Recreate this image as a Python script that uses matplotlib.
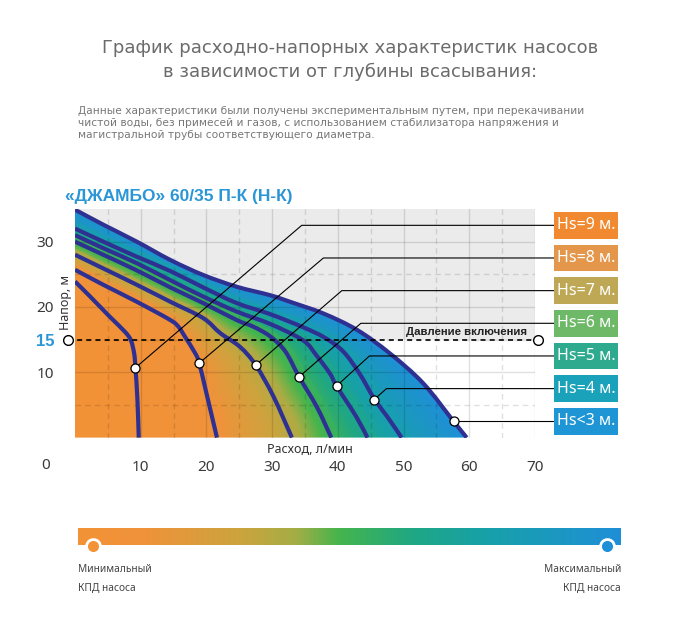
import numpy as np
import matplotlib
matplotlib.use('Agg')
import matplotlib.pyplot as plt
from matplotlib.colors import LinearSegmentedColormap
from matplotlib.patches import Rectangle, PathPatch
from matplotlib.path import Path

plt.rcParams['font.family'] = ['Noto Sans', 'DejaVu Sans']

# head-flow curves (flow l/min, head m), from deepest suction to shallowest
hs9_q = [0, 2.3, 5.3, 7.6, 8.5, 9.0, 9.2, 9.5, 9.7]
hs9_h = [23.9, 21.6, 18.5, 16.2, 14.9, 12.9, 10.7, 5.8, 0]
hs8_q = [0, 4.3, 9.4, 14.5, 15.8, 16.7, 18.3, 18.9, 20.0, 21.6]
hs8_h = [25.7, 23.4, 20.8, 18.0, 16.9, 15.5, 12.9, 11.4, 6.8, 0]
hs7_q = [0, 4.3, 9.4, 14.5, 19.5, 22.1, 25.1, 27.5, 30.2, 33.0]
hs7_h = [28.0, 25.9, 23.4, 20.8, 18.3, 16.0, 13.9, 11.1, 6.3, 0]
hs6_q = [0, 4.3, 9.4, 14.5, 19.5, 24.6, 27.1, 29.7, 32.0, 34.1, 36.8, 39.0]
hs6_h = [30.0, 28.0, 25.6, 23.0, 20.6, 18.0, 17.0, 15.5, 13.2, 9.3, 4.7, 0]
hs5_q = [0, 4.3, 9.4, 14.5, 19.5, 24.6, 29.7, 34.7, 36.8, 38.8, 39.8, 42.8, 44.5]
hs5_h = [31.0, 29.0, 26.7, 24.1, 21.6, 19.3, 17.4, 14.9, 12.5, 9.8, 7.9, 3.2, 0]
hs4_q = [0, 4.3, 9.4, 14.5, 19.5, 24.6, 29.7, 34.7, 38.0, 40.8, 43.3, 45.5, 47.8, 49.7]
hs4_h = [32.0, 30.0, 27.7, 25.5, 23.0, 20.6, 18.9, 16.9, 15.3, 13.2, 9.8, 6.0, 2.8, 0]
hs3_q = [0, 4.3, 9.4, 14.5, 19.5, 24.6, 29.7, 32.7, 37.8, 42.9, 47.9, 53.0, 57.6, 59.6]
hs3_h = [34.9, 32.6, 30.0, 27.2, 24.9, 23.1, 21.8, 20.8, 19.0, 16.5, 12.9, 8.3, 2.5, 0]

curves = [(hs9_q, hs9_h), (hs8_q, hs8_h), (hs7_q, hs7_h), (hs6_q, hs6_h),
          (hs5_q, hs5_h), (hs4_q, hs4_h), (hs3_q, hs3_h)]
labels = ['Hs=9 м.', 'Hs=8 м.', 'Hs=7 м.', 'Hs=6 м.', 'Hs=5 м.', 'Hs=4 м.', 'Hs<3 м.']
label_colors = ['#f0892f', '#e4964b', '#bfa855', '#6eb968', '#2eab8f', '#1aa2bb', '#1e95d4']

# callout points on each curve, elbow of the leader and the label row
marker_q = [9.2, 18.9, 27.5, 34.1, 39.8, 45.5, 57.6]
marker_h = [10.7, 11.4, 11.1, 9.3, 7.9, 5.8, 2.5]
elbow_q = [34.5, 37.8, 40.6, 43.5, 44.8, 47.4, 57.6]
row_h = [32.5, 27.5, 22.5, 17.5, 12.5, 7.5, 2.5]

p_on = 15  # switch-on pressure, m

x_ticks = [10, 20, 30, 40, 50, 60, 70]
y_ticks = [10, 15, 20, 30]

navy = '#2e3192'
blue = '#2a96d6'
bold_font = ['Liberation Sans', 'DejaVu Sans']
title_font = ['DejaVu Sans']

cmap = LinearSegmentedColormap.from_list('kpd', list(zip(
    [0, 0.12, 0.30, 0.40, 0.48, 0.62, 0.75, 1.0],
    ['#f39237', '#f0923a', '#cba43e', '#a5ad45', '#45b54c', '#1fa785', '#17a1a8', '#1f8fd8'])))


def smooth_path(q, h):
    # bezier through the read points (catmull-rom tangents), only for drawing
    P = np.column_stack([q, h]).astype(float)
    n = len(P)
    verts = [P[0]]
    codes = [Path.MOVETO]
    for i in range(n-1):
        p0 = P[i-1] if i > 0 else P[i]
        p1 = P[i]
        p2 = P[i+1]
        p3 = P[i+2] if i+2 < n else P[i+1]
        verts += [p1 + (p2-p0)/6, p2 - (p3-p1)/6, p2]
        codes += [Path.CURVE4]*3
    return verts, codes


fig = plt.figure(figsize=(6.8, 6.3), dpi=100)
ax = fig.add_axes([75/680, 1-437.6/630, 460/680, 228.6/630])
ax.set_xlim(0, 70)
ax.set_ylim(0, 35)
ax.axhspan(p_on, 35, color='#ebebeb', zorder=0, lw=0)

# colour field between the curves (ray from origin, blended between curves)
qq, hh = np.meshgrid(np.linspace(0, 70, 701), np.linspace(0, 35, 351))
u, v = qq/60, hh/35
ang = np.arctan2(v, u)
rad = np.hypot(u, v)
bounds = [np.zeros_like(rad)]
for q, h in curves:
    cq = np.array(q)/60
    ch = np.array(h)/35
    a = np.arctan2(ch, cq)
    r = np.hypot(cq, ch)
    bounds.append(np.interp(ang, a[::-1], r[::-1]))
t = np.full(rad.shape, np.nan)
for i in range(len(curves)):
    lo, hi = bounds[i], bounds[i+1]
    m = (rad >= lo) & (rad <= hi*1.03) & np.isnan(t)
    t[m] = i + np.clip((rad[m]-lo[m])/(hi[m]-lo[m]), 0, 1)
s = np.interp(np.nan_to_num(t), [0, 2, 3, 4, 5, 6, 7], [0, 0.12, 0.36, 0.52, 0.66, 0.8, 1.0])
rgba = cmap(s)
rgba[..., 3] = np.where(np.isnan(t), 0, 1)
im = ax.imshow(rgba, origin='lower', extent=[0, 70, 0, 35], aspect='auto',
               interpolation='bilinear', zorder=1)
ov, oc = smooth_path(hs3_q, hs3_h)
im.set_clip_path(Path(ov + [(0, 0), (0, 0)], oc + [Path.LINETO, Path.CLOSEPOLY]), ax.transData)

# grid
for x in range(5, 75, 5):
    ax.axvline(x, color='k', alpha=0.12, lw=1, zorder=2, ls='-' if x % 10 == 0 else (0, (4, 3)))
for y in range(5, 35, 5):
    ax.axhline(y, color='k', alpha=0.12, lw=1, zorder=2, ls='-' if y % 10 == 0 else (0, (4, 3)))

for q, h in curves:
    cv, cc = smooth_path(q, h)
    ax.add_patch(PathPatch(Path(cv, cc), fill=False, ec=navy, lw=3, joinstyle='round',
                           capstyle='butt', zorder=4))

# switch-on pressure line
ax.plot([-1.1, 70.5], [p_on, p_on], color='k', lw=1.2, ls=(0, (3, 2.5)), zorder=5, clip_on=False)
ax.plot([-1.1, 70.5], [p_on, p_on], 'o', ms=7, mfc='white', mec='k', mew=1, zorder=6, clip_on=False)
ax.text(68.8, p_on + 0.45, 'Давление включения', ha='right', va='bottom', fontsize=8.2,
        fontweight='bold', color='#222222', zorder=6, family=bold_font)

# leaders and labels
for i in range(len(curves)):
    ax.plot([marker_q[i], elbow_q[i], 72.9], [marker_h[i], row_h[i], row_h[i]],
            color='k', lw=0.8, zorder=5, clip_on=False)
    ax.plot(marker_q[i], marker_h[i], 'o', ms=6.5, mfc='white', mec='k', mew=0.9,
            zorder=6, clip_on=False)
    ax.add_patch(Rectangle((72.9, row_h[i]-2.05), 9.8, 4.1, fc=label_colors[i], ec='none',
                           clip_on=False, zorder=5))
    ax.text(77.8, row_h[i], labels[i], ha='center', va='center', color='white',
            fontsize=11.5, zorder=6, clip_on=False)

for sp in ax.spines.values():
    sp.set_visible(False)
ax.set_xticks(x_ticks, [str(x) for x in x_ticks])
ax.set_yticks(y_ticks, [str(y) for y in y_ticks])
ax.tick_params(length=0, labelsize=11, colors='#3a3a3a')
ax.tick_params(axis='x', pad=16)
ax.tick_params(axis='y', pad=15)
for lbl in ax.get_yticklabels():
    if lbl.get_text() == '15':
        lbl.set_color(blue)
        lbl.set_fontweight('bold')
        lbl.set_family(bold_font)
        lbl.set_fontsize(12)
ax.text(-4.4, -0.124, '0', transform=ax.get_xaxis_transform(), ha='center', va='center',
        fontsize=11, color='#3a3a3a')
ax.text(35.8, -0.05, 'Расход, л/мин', transform=ax.get_xaxis_transform(), ha='center',
        va='center', fontsize=9, color='#333333')
fig.text(65/680, 1-302/630, 'Напор, м', rotation=90, ha='center', va='center',
         fontsize=9, color='#333333')

# header texts
fig.text(350/680, 1-48/630, 'График расходно-напорных характеристик насосов', ha='center',
         va='center', fontsize=13, color='#6b6b6b', family=title_font)
fig.text(350/680, 1-72/630, 'в зависимости от глубины всасывания:', ha='center',
         va='center', fontsize=13, color='#6b6b6b', family=title_font)
desc = ['Данные характеристики были получены экспериментальным путем, при перекачивании',
        'чистой воды, без примесей и газов, с использованием стабилизатора напряжения и',
        'магистральной трубы соответствующего диаметра.']
for i, line in enumerate(desc):
    fig.text(78/680, 1-(110.7+12.4*i)/630, line, ha='left', va='center', fontsize=7.7,
             color='#777777', family=title_font)
fig.text(65/680, 1-197/630, '«ДЖАМБО» 60/35 П-К (Н-К)', ha='left', va='center',
         fontsize=12.5, fontweight='bold', color=blue, family=bold_font)

# efficiency scale
cax = fig.add_axes([78/680, 85/630, 542/680, 17/630])
cax.imshow(np.linspace(0, 1, 256)[None, :], cmap=cmap, aspect='auto', extent=[0, 1, 0, 1])
cax.set_xlim(0, 1)
cax.set_ylim(0, 1)
cax.axis('off')
cax.plot([0.028], [-0.08], 'o', ms=10, mfc=cmap(0.0), mec='white', mew=2, clip_on=False)
cax.plot([0.976], [-0.08], 'o', ms=10, mfc=cmap(1.0), mec='white', mew=2, clip_on=False)
fig.text(78/680, 1-570/630, 'Минимальный', ha='left', va='center', fontsize=7.3, color='#444444')
fig.text(78/680, 1-588/630, 'КПД насоса', ha='left', va='center', fontsize=7.3, color='#444444')
fig.text(621/680, 1-570/630, 'Максимальный', ha='right', va='center', fontsize=7.3, color='#444444')
fig.text(621/680, 1-588/630, 'КПД насоса', ha='right', va='center', fontsize=7.3, color='#444444')

fig.savefig('out.png', dpi=100, facecolor='white')
